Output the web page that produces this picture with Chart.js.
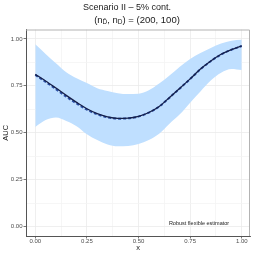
<!DOCTYPE html>
<html lang="en">
<head>
  <meta charset="UTF-8" />
  <title>Scenario II – 5% cont.</title>
  <script src="https://cdn.jsdelivr.net/npm/chart.js"></script>
  <style>
    html, body { margin: 0; padding: 0; background: #fff; }
    #wrap { position: relative; width: 254px; height: 254px; }
  </style>
</head>
<body>
  <div id="wrap"><canvas id="grafico" width="254" height="254"></canvas></div>

  <script>
    // valores
    const xs = [0, 0.05, 0.1, 0.15, 0.2, 0.25, 0.3, 0.35, 0.4, 0.45, 0.5, 0.55, 0.6, 0.65, 0.7, 0.75, 0.8, 0.85, 0.9, 0.95, 1.0];
    const aucVerdadeira = [0.811, 0.776, 0.738, 0.699, 0.662, 0.628, 0.602, 0.585, 0.577, 0.578, 0.587, 0.608, 0.640, 0.688, 0.737, 0.787, 0.839, 0.882, 0.918, 0.943, 0.963];
    const aucEstimada = [0.808, 0.771, 0.732, 0.692, 0.656, 0.623, 0.598, 0.582, 0.575, 0.577, 0.586, 0.607, 0.639, 0.687, 0.736, 0.786, 0.838, 0.881, 0.917, 0.942, 0.962];
    const faixaSup = [0.971, 0.920, 0.870, 0.822, 0.790, 0.765, 0.737, 0.722, 0.711, 0.706, 0.708, 0.726, 0.762, 0.805, 0.852, 0.893, 0.925, 0.952, 0.975, 0.990, 0.995];
    const faixaInf = [0.531, 0.568, 0.581, 0.563, 0.535, 0.492, 0.461, 0.438, 0.428, 0.430, 0.440, 0.462, 0.495, 0.548, 0.598, 0.660, 0.720, 0.778, 0.820, 0.840, 0.834];
    const ticksMaiores = [0, 0.25, 0.5, 0.75, 1];
    const ticksTodos = [0, 0.125, 0.25, 0.375, 0.5, 0.625, 0.75, 0.875, 1];

    const pontos = ys => xs.map((x, i) => ({ x, y: ys[i] }));
    const ehMaior = v => ticksMaiores.some(t => Math.abs(t - v) < 1e-9);
    const fonte = '"Liberation Sans", Arial, sans-serif';

    // textos: titulo, subtitulo com subscritos, rotulos dos eixos e anotacao
    const textos = {
      id: 'textos',
      afterDraw(chart) {
        const ctx = chart.ctx;
        const a = chart.chartArea;
        ctx.save();
        // borda do painel (topo e direita)
        ctx.strokeStyle = '#b3b3b3';
        ctx.lineWidth = 1;
        ctx.beginPath();
        ctx.moveTo(a.left, a.top + 0.5);
        ctx.lineTo(a.right - 0.5, a.top + 0.5);
        ctx.lineTo(a.right - 0.5, a.bottom);
        ctx.stroke();

        ctx.fillStyle = '#1a1a1a';
        ctx.textBaseline = 'middle';
        ctx.textAlign = 'center';
        ctx.font = '9px ' + fonte;
        ctx.fillText('Scenario II – 5% cont.', 127, 8);

        // subtitulo: (nD̄, nD) = (200, 100)
        const f = '9.5px ' + fonte;
        const fs = '6.5px ' + fonte;
        const partes = [['(n', f, 0], ['D\u0304', fs, 2], [', n', f, 0], ['D', fs, 2], [') = (200, 100)', f, 0]];
        let largura = 0;
        partes.forEach(p => { ctx.font = p[1]; largura += ctx.measureText(p[0]).width; });
        let x = 137 - largura / 2;
        ctx.textAlign = 'left';
        partes.forEach(p => {
          ctx.font = p[1];
          ctx.fillText(p[0], x, 20 + p[2]);
          x += ctx.measureText(p[0]).width;
        });

        ctx.textAlign = 'center';
        ctx.font = '7.5px ' + fonte;
        ctx.fillText('x', (a.left + a.right) / 2, 247.5);
        ctx.save();
        ctx.translate(6, (a.top + a.bottom) / 2);
        ctx.rotate(-Math.PI / 2);
        ctx.fillText('AUC', 0, 0);
        ctx.restore();

        ctx.font = '5.5px ' + fonte;
        ctx.fillText('Robust flexible estimator', 199, 223);
        ctx.restore();
      }
    };

    const eixo = (afterFit, pad) => ({
      type: 'linear',
      afterBuildTicks: s => { s.ticks = ticksTodos.map(v => ({ value: v })); },
      afterFit,
      grid: {
        color: c => (c.tick && ehMaior(c.tick.value)) ? '#ebebeb' : '#f4f4f4',
        lineWidth: 0.8,
        tickLength: 2.5,
        tickColor: c => (c.tick && ehMaior(c.tick.value)) ? '#555' : 'rgba(0,0,0,0)'
      },
      border: { color: '#555', width: 1 },
      ticks: {
        autoSkip: false,
        maxRotation: 0,
        padding: pad,
        color: '#4d4d4d',
        font: { family: fonte, size: 6 },
        callback: v => ehMaior(v) ? v.toFixed(2) : ''
      }
    });

    const ctx = document.getElementById('grafico').getContext('2d');
    new Chart(ctx, {
      type: 'line',
      data: {
        datasets: [
          {
            label: 'sup',
            data: pontos(faixaSup),
            borderWidth: 0,
            pointRadius: 0,
            backgroundColor: '#bfdfff',
            fill: '+1',
            cubicInterpolationMode: 'monotone',
            order: 3
          },
          {
            label: 'inf',
            data: pontos(faixaInf),
            borderWidth: 0,
            pointRadius: 0,
            fill: false,
            cubicInterpolationMode: 'monotone',
            order: 3
          },
          {
            label: 'estimada',
            data: pontos(aucEstimada),
            borderColor: '#2a4fa6',
            borderWidth: 2,
            borderDash: [3, 2],
            pointRadius: 0,
            fill: false,
            cubicInterpolationMode: 'monotone',
            order: 2
          },
          {
            label: 'verdadeira',
            data: pontos(aucVerdadeira),
            borderColor: '#16204a',
            borderWidth: 1.3,
            pointRadius: 0,
            fill: false,
            cubicInterpolationMode: 'monotone',
            order: 1
          }
        ]
      },
      options: {
        responsive: false,
        animation: false,
        layout: { padding: { top: 29.5, right: 4, left: 0, bottom: 0 } },
        plugins: { legend: { display: false }, tooltip: { enabled: false } },
        scales: {
          x: Object.assign(eixo(s => { s.height = 18; }, -1), { min: -0.045, max: 1.04 }),
          y: Object.assign(eixo(s => { s.width = 26; }, 1), { min: -0.05, max: 1.05 })
        }
      },
      plugins: [textos]
    });
  </script>
</body>
</html>
